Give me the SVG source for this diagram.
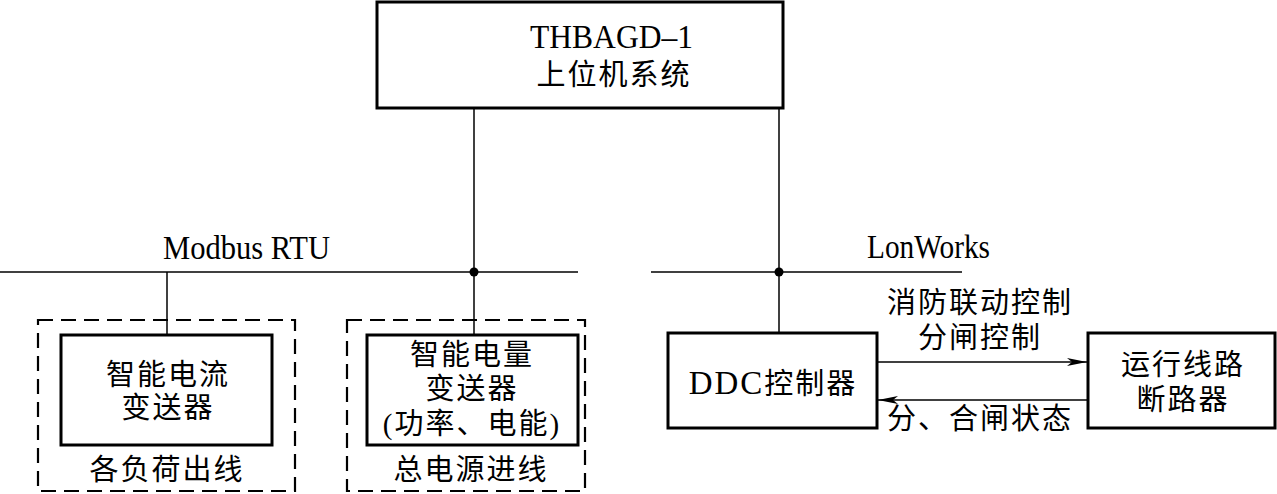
<svg xmlns="http://www.w3.org/2000/svg" width="1277" height="494" viewBox="0 0 1277 494">
<defs>
<style>
.box{fill:#fff;stroke:#000;stroke-width:3}
.dash{fill:none;stroke:#000;stroke-width:2.2;stroke-dasharray:15 8}
.ln{fill:none;stroke:#000;stroke-width:1.5}
.t{font-family:"Liberation Serif",serif;font-size:33px;fill:#000;text-anchor:start}
.c{font-family:"Liberation Serif","Noto Sans CJK SC",serif;font-size:29px;fill:#000;text-anchor:middle;letter-spacing:2px}
</style>
<marker id="ah" viewBox="0 0 20 8" refX="20" refY="4" markerWidth="20" markerHeight="8" markerUnits="userSpaceOnUse" orient="auto">
<path d="M0,0 L20,4 L0,8 L5,4 Z" fill="#000"/>
</marker>
</defs>
<rect width="1277" height="494" fill="#fff"/>
<g id="connectors">
<line class="ln" x1="0" y1="272" x2="578" y2="272"/>
<line class="ln" x1="651" y1="272" x2="962" y2="272"/>
<line class="ln" x1="474" y1="108" x2="474" y2="335"/>
<line class="ln" x1="167" y1="272" x2="167" y2="335"/>
<line class="ln" x1="779" y1="108" x2="779" y2="333"/>
<circle cx="474" cy="272" r="4.5" fill="#000"/>
<circle cx="779" cy="272" r="4.5" fill="#000"/>
<line class="ln" x1="877" y1="362" x2="1087" y2="362" marker-end="url(#ah)"/>
<line class="ln" x1="1088" y1="400" x2="878" y2="400" marker-end="url(#ah)"/>
<text class="t" x="163" y="259" textLength="167" lengthAdjust="spacingAndGlyphs">Modbus RTU</text>
<text class="t" x="867" y="258" textLength="123" lengthAdjust="spacingAndGlyphs">LonWorks</text>
<text class="c" x="980" y="313">消防联动控制</text>
<text class="c" x="980" y="348">分闸控制</text>
<text class="c" x="980" y="429">分、合闸状态</text>
</g>
<g id="host">
<rect class="box" x="377" y="2" width="406" height="106"/>
<text class="t" x="530" y="48" textLength="163" lengthAdjust="spacingAndGlyphs">THBAGD–1</text>
<text class="c" x="614" y="85" font-size="30" letter-spacing="1.5">上位机系统</text>
</g>
<g id="group-load">
<rect class="dash" x="38" y="320" width="257" height="171"/>
<text class="c" x="167" y="480">各负荷出线</text>
</g>
<g id="current-transmitter">
<rect class="box" x="61" y="335" width="211" height="110"/>
<text class="c" x="168" y="385">智能电流</text>
<text class="c" x="168" y="418">变送器</text>
</g>
<g id="group-main">
<rect class="dash" x="347" y="320" width="238" height="171"/>
<text class="c" x="471" y="480">总电源进线</text>
</g>
<g id="power-transmitter">
<rect class="box" x="367" y="335" width="211" height="110"/>
<text class="c" x="472" y="365">智能电量</text>
<text class="c" x="472" y="399">变送器</text>
<text class="c" x="472" y="434" letter-spacing="0">(功率、电能)</text>
</g>
<g id="ddc">
<rect class="box" x="668" y="333" width="209" height="95"/>
<text class="c" x="773" y="394" letter-spacing="0"><tspan font-size="33">DDC</tspan>控制器</text>
</g>
<g id="breaker">
<rect class="box" x="1088" y="333" width="187" height="95"/>
<text class="c" x="1183" y="375">运行线路</text>
<text class="c" x="1183" y="410">断路器</text>
</g>
</svg>
